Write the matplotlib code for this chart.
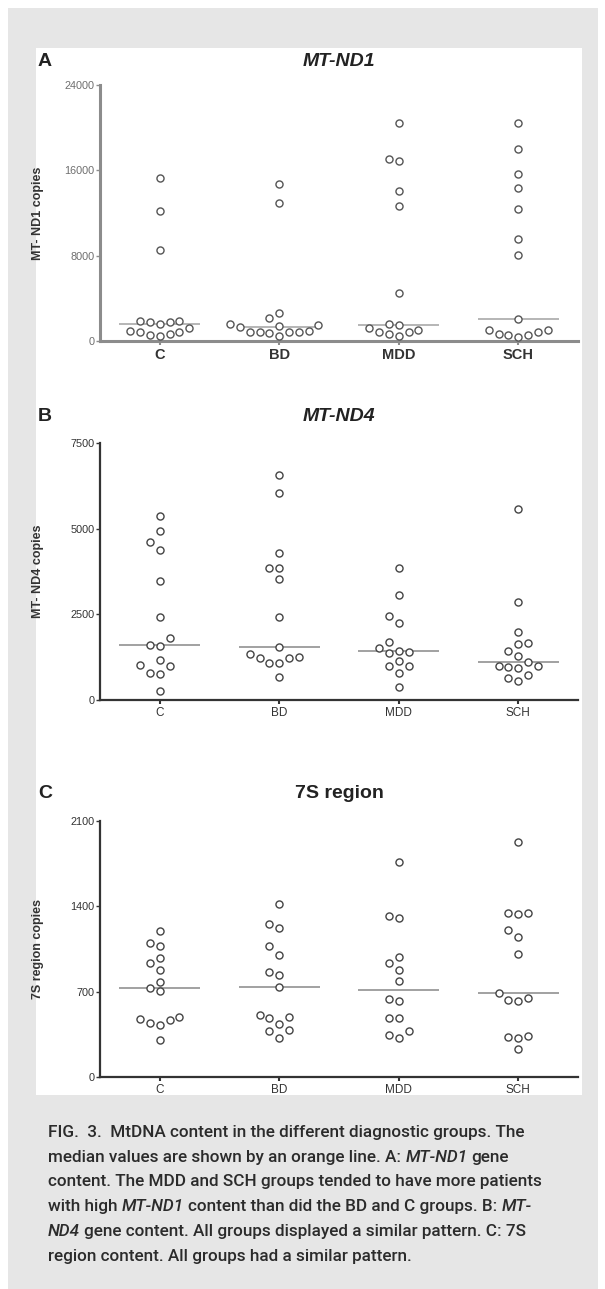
import matplotlib
matplotlib.use("Agg")
import matplotlib.pyplot as plt
import numpy as np
from matplotlib.patches import Rectangle
from matplotlib.transforms import IdentityTransform

W, H = 605, 1289

groups = ["C", "BD", "MDD", "SCH"]

# MT-ND1 copies (panel A)
nd1_c = [15300, 12170, 8570, 1850, 1800, 1550, 1800, 1900, 1250, 850, 700, 470, 560, 850, 900]
nd1_bd = [14700, 12920, 2660, 2160, 1630, 1480, 1380, 1300, 900, 880, 860, 820, 800, 780, 470]
nd1_mdd = [20460, 17050, 16900, 14080, 12700, 4540, 1560, 1470, 1250, 1060, 850, 850, 625, 470]
nd1_sch = [20400, 18000, 15680, 14330, 12390, 9540, 8040, 2070, 1060, 1060, 850, 690, 530, 530, 375]

# MT-ND4 copies (panel B)
nd4_c = [5363, 4945, 4615, 4372, 3468, 2429, 1817, 1593, 1564, 1175, 1030, 981, 787, 767, 272]
nd4_bd = [6577, 6053, 4304, 3857, 3857, 3527, 2419, 1535, 1331, 1263, 1234, 1234, 1069, 1069, 680]
nd4_mdd = [3857, 3050, 2448, 2234, 1681, 1506, 1438, 1409, 1360, 1146, 1000, 1000, 787, 369]
nd4_sch = [5586, 2846, 1992, 1671, 1622, 1438, 1273, 1098, 1000, 981, 971, 942, 729, 651, 544]

# 7S region copies (panel C)
s7_c = [1195, 1099, 1072, 979, 938, 878, 782, 730, 703, 492, 476, 470, 443, 424, 304]
s7_bd = [1419, 1258, 1225, 1075, 998, 864, 837, 738, 511, 495, 487, 438, 388, 380, 320]
s7_mdd = [1761, 1318, 1304, 987, 938, 875, 790, 643, 623, 487, 487, 380, 342, 320]
s7_sch = [1925, 1345, 1343, 1334, 1209, 1146, 1012, 686, 645, 629, 621, 334, 328, 317, 227]

caption = [
    [("FIG.  3.  MtDNA content in the different diagnostic groups. The", False)],
    [("median values are shown by an orange line. A: ", False), ("MT-ND1", True), (" gene", False)],
    [("content. The MDD and SCH groups tended to have more patients", False)],
    [("with high ", False), ("MT-ND1", True), (" content than did the BD and C groups. B: ", False), ("MT-", True)],
    [("ND4", True), (" gene content. All groups displayed a similar pattern. C: 7S", False)],
    [("region content. All groups had a similar pattern.", False)],
]


def swarm_offsets(values, px_per_unit, diam_px, step):
    # greedy column scatter: put each point in the nearest free slot
    values = np.asarray(values, float)
    placed = {}
    offs = np.zeros(len(values))
    for i in np.argsort(values):
        y = values[i] * px_per_unit
        k, chosen = 0, None
        while chosen is None:
            for s in ([0] if k == 0 else [-k, k]):
                if all(abs(y - yy) >= diam_px for yy in placed.get(s, [])):
                    chosen = s
                    break
            k += 1
        placed.setdefault(chosen, []).append(y)
        offs[i] = chosen * step
    return offs


def fx(px):
    return px / W


def fy(py):
    return 1 - py / H


fig = plt.figure(figsize=(W / 100, H / 100), dpi=100)
fig.patches.append(Rectangle((fx(8), fy(1289)), fx(590), 1281 / H, transform=fig.transFigure,
                             facecolor="#e6e6e6", edgecolor="none", zorder=-10))
fig.patches.append(Rectangle((fx(36), fy(1095)), fx(546), (1095 - 48) / H, transform=fig.transFigure,
                             facecolor="white", edgecolor="none", zorder=-9))

font = ["Liberation Sans", "DejaVu Sans"]


def panel(top_px, bottom_px, data, ymax, yticks, ylabel, title, letter, title_y, italic, light):
    ax = fig.add_axes([fx(100), fy(bottom_px), fx(478), (bottom_px - top_px) / H])
    ax.set_facecolor("none")
    spine_c = "#8c8c8c" if light else "#333333"
    spine_w = 2.2 if light else 1.6
    mk_c = "#555555" if light else "#444444"
    med_c = "#b0b0b0" if light else "#9a9a9a"
    ppu = (bottom_px - top_px) / ymax
    for i, vals in enumerate(data):
        offs = swarm_offsets(vals, ppu, 9.5, 0.082)
        ax.scatter(i + offs, vals, s=26, facecolor="white", edgecolor=mk_c,
                   linewidth=1.0, zorder=3, clip_on=False)
        ax.hlines(np.median(vals), i - 0.34, i + 0.34, color=med_c, lw=1.3, zorder=2)
    ax.set_xlim(-0.5, 3.5)
    ax.set_ylim(0, ymax)
    ax.set_yticks(yticks)
    ax.set_yticklabels([str(t) for t in yticks], fontsize=7.8, family=font,
                       color="#6e6e6e" if light else "#333333")
    ax.set_xticks(range(len(groups)))
    if light:
        ax.set_xticklabels(groups, fontsize=10.5, fontweight="bold", family=font, color="#333333")
    else:
        ax.set_xticklabels(groups, fontsize=8.5, family=font, color="#333333")
    for s in ["top", "right"]:
        ax.spines[s].set_visible(False)
    for s in ["left", "bottom"]:
        ax.spines[s].set_color(spine_c)
        ax.spines[s].set_linewidth(spine_w)
    ax.tick_params(axis="y", length=3, width=1.0, color=spine_c, pad=1)
    ax.tick_params(axis="x", length=3, width=1.5, color=spine_c, pad=2)
    ax.set_ylabel(ylabel, fontsize=9, fontweight="bold", family=font, color="#333333")
    ax.yaxis.set_label_coords((44 - 100) / 478, 0.5)
    fig.text(fx(45), fy(title_y), letter, fontsize=14, fontweight="bold", family=font,
             ha="center", va="center", color="#222222")
    fig.text(fx(339), fy(title_y), title, fontsize=14, fontweight="bold", family=font,
             style="italic" if italic else "normal", ha="center", va="center", color="#222222")
    return ax


panel(85, 341, [nd1_c, nd1_bd, nd1_mdd, nd1_sch], 24000, [0, 8000, 16000, 24000],
      "MT- ND1 copies", "MT-ND1", "A", 62, True, True)
panel(443, 700, [nd4_c, nd4_bd, nd4_mdd, nd4_sch], 7500, [0, 2500, 5000, 7500],
      "MT- ND4 copies", "MT-ND4", "B", 417, True, False)
panel(821, 1077, [s7_c, s7_bd, s7_mdd, s7_sch], 2100, [0, 700, 1400, 2100],
      "7S region copies", "7S region", "C", 793, False, False)

# caption, drawn run by run so italic words sit inline
renderer = fig.canvas.get_renderer()
cap_font = ["Roboto", "DejaVu Sans"]
cap_kw = dict(fontsize=12.3, fontweight="medium", family=cap_font, color="#2b2b2b",
              va="baseline", ha="left", transform=IdentityTransform())


def text_width(s, italic):
    t = fig.text(0, 0, s, style="italic" if italic else "normal", **cap_kw)
    w = t.get_window_extent(renderer).width
    t.remove()
    return w


space_w = text_width("a a", False) - text_width("aa", False)
for li, runs in enumerate(caption):
    x = 48
    y = H - (1137 + li * 24.7)
    for txt, it in runs:
        lead = len(txt) - len(txt.lstrip(" "))
        trail = len(txt) - len(txt.rstrip(" "))
        x += lead * space_w
        core = txt.strip(" ")
        t = fig.text(x, y, core, style="italic" if it else "normal", **cap_kw)
        x += t.get_window_extent(renderer).width + trail * space_w

fig.savefig("out.png", dpi=100)
